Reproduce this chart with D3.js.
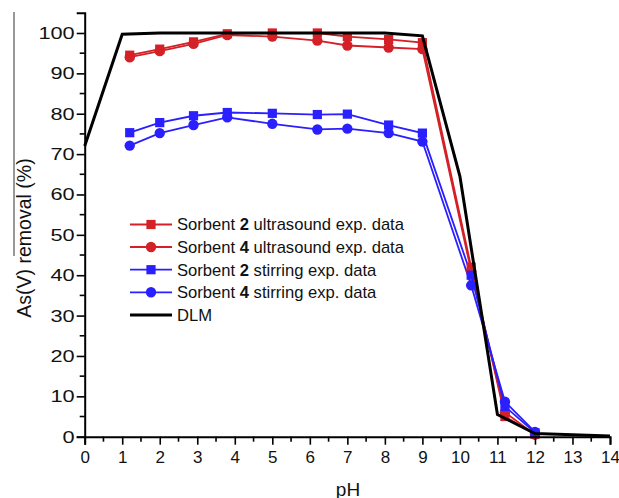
<!DOCTYPE html>
<html>
<head>
<meta charset="utf-8">
<script src="https://d3js.org/d3.v7.min.js"></script>
<style>
  body { margin: 0; background: #fff; }
  svg text { font-family: "Liberation Sans", Arial, sans-serif; fill: #111; }
</style>
</head>
<body>
<svg id="chart"></svg>
<script>
// pH values of the experiments
var phExp = [1.2, 2.0, 2.9, 3.8, 5.0, 6.2, 7.0, 8.1, 9.0, 10.3, 11.2, 12.0];
// As(V) removal (%)
var us2 = [94.5, 96.0, 97.8, 99.8, 100.0, 100.0, 99.1, 98.4, 97.6, 42.0, 5.0, 0.6];
var us4 = [94.0, 95.5, 97.3, 99.5, 99.1, 98.1, 96.9, 96.4, 96.0, 41.0, 6.0, 0.5];
var st2 = [75.3, 77.8, 79.5, 80.3, 80.1, 79.8, 79.9, 77.2, 75.2, 40.0, 7.5, 1.0];
var st4 = [72.1, 75.2, 77.2, 79.1, 77.5, 76.1, 76.3, 75.2, 73.1, 37.5, 8.7, 1.2];
// DLM model
var phDlm = [0, 1, 2, 3, 4, 5, 6, 7, 8, 9, 10, 11, 12, 13, 14];
var dlm = [72, 99.7, 100, 100, 100, 100, 100, 100, 100, 99.3, 64.5, 5.5, 0.8, 0.5, 0.2];

var xTicks = d3.range(0, 15, 1);
var yTicks = d3.range(0, 101, 10);

var series = [
  {name: "ultrasound", num: "2", vals: us2, color: "#d42027", shape: "square"},
  {name: "ultrasound", num: "4", vals: us4, color: "#d42027", shape: "circle"},
  {name: "stirring", num: "2", vals: st2, color: "#2a1fff", shape: "square"},
  {name: "stirring", num: "4", vals: st4, color: "#2a1fff", shape: "circle"}
];

var W = 619, H = 498;
var svg = d3.select("#chart").attr("width", W).attr("height", H);

var x = d3.scaleLinear().domain([0, 14]).range([84.7, 610]);
var y = d3.scaleLinear().domain([0, 105]).range([436.7, 12.8]);

// stray border line at left edge of the original figure
svg.append("line")
  .attr("x1", 14).attr("x2", 14).attr("y1", 12).attr("y2", 256)
  .attr("stroke", "#333").attr("stroke-width", 1);

var line = d3.line().x(d => x(d[0])).y(d => y(d[1]));

series.forEach(function(s) {
  var pts = phExp.map((p, i) => [p, s.vals[i]]);
  svg.append("path")
    .datum(pts)
    .attr("d", line)
    .attr("fill", "none")
    .attr("stroke", s.color)
    .attr("stroke-width", 1.8);
});

function marker(g, shape, color, cx, cy) {
  if (shape == "square") {
    g.append("rect")
      .attr("x", cx - 4.6).attr("y", cy - 4.6)
      .attr("width", 9.2).attr("height", 9.2)
      .attr("fill", color);
  } else {
    g.append("circle")
      .attr("cx", cx).attr("cy", cy).attr("r", 5.2)
      .attr("fill", color);
  }
}

series.forEach(function(s) {
  var g = svg.append("g");
  phExp.forEach(function(p, i) {
    marker(g, s.shape, s.color, x(p), y(s.vals[i]));
  });
});

svg.append("path")
  .datum(phDlm.map((p, i) => [p, dlm[i]]))
  .attr("d", line)
  .attr("fill", "none")
  .attr("stroke", "#000")
  .attr("stroke-width", 3)
  .attr("stroke-linejoin", "miter");

// axes
var xAxis = svg.append("g")
  .attr("transform", "translate(0," + y(0) + ")")
  .call(d3.axisBottom(x).tickValues(xTicks).tickSize(8).tickPadding(6).tickFormat(d3.format("d")));
xAxis.selectAll(".minor")
  .data(d3.range(0.5, 14, 1)).enter()
  .append("line")
  .attr("x1", d => x(d)).attr("x2", d => x(d))
  .attr("y1", 0).attr("y2", 5)
  .attr("stroke", "#000").attr("stroke-width", 1.6);

var yAxis = svg.append("g")
  .attr("transform", "translate(" + x(0) + ",0)")
  .call(d3.axisLeft(y).tickValues(yTicks).tickSize(8).tickPadding(0).tickFormat(d3.format("d")));
yAxis.selectAll(".minor")
  .data(d3.range(5, 101, 10)).enter()
  .append("line")
  .attr("x1", 0).attr("x2", -5)
  .attr("y1", d => y(d)).attr("y2", d => y(d))
  .attr("stroke", "#000").attr("stroke-width", 1.6);

[xAxis, yAxis].forEach(function(a) {
  a.select(".domain").attr("stroke", "#000").attr("stroke-width", 2);
  a.selectAll(".tick line").attr("stroke", "#000").attr("stroke-width", 1.6);
  a.selectAll(".tick text").attr("font-size", 17).attr("fill", "#111")
    .attr("font-family", "'Liberation Sans', Arial, sans-serif");
});
// y labels in the original are drawn wider
yAxis.selectAll(".tick text")
  .attr("x", 0)
  .attr("transform", "translate(-10,0) scale(1.28,1)");

svg.append("text")
  .attr("x", 348).attr("y", 496)
  .attr("text-anchor", "middle")
  .attr("font-size", 19)
  .text("pH");

svg.append("text")
  .attr("transform", "translate(31,238) rotate(-90)")
  .attr("text-anchor", "middle")
  .attr("font-size", 19.5)
  .text("As(V) removal (%)");

// legend
var legend = svg.append("g");
var rowY = [224.5, 247, 269.7, 292.3, 315];
series.forEach(function(s, i) {
  var yy = rowY[i];
  legend.append("line")
    .attr("x1", 130).attr("x2", 172).attr("y1", yy).attr("y2", yy)
    .attr("stroke", s.color).attr("stroke-width", 1.8);
  marker(legend, s.shape, s.color, 151, yy);
  var t = legend.append("text")
    .attr("x", 177).attr("y", yy + 5.8)
    .attr("font-size", 16.6);
  t.append("tspan").text("Sorbent ");
  t.append("tspan").attr("font-weight", "bold").text(s.num);
  t.append("tspan").text(" " + s.name + " exp. data");
});
legend.append("line")
  .attr("x1", 130).attr("x2", 172).attr("y1", rowY[4]).attr("y2", rowY[4])
  .attr("stroke", "#000").attr("stroke-width", 3);
legend.append("text")
  .attr("x", 177).attr("y", rowY[4] + 5.8)
  .attr("font-size", 16.6)
  .text("DLM");
</script>
</body>
</html>
